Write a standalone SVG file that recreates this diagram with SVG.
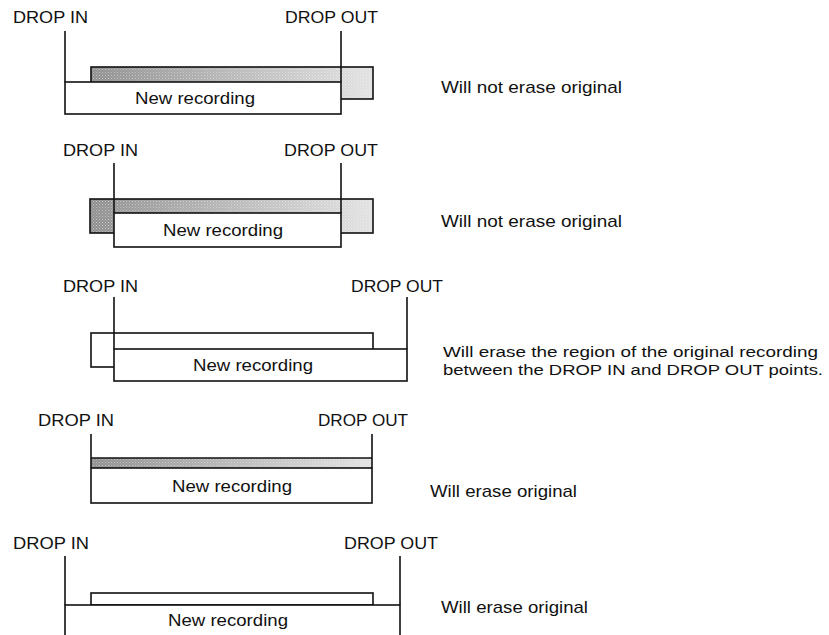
<svg xmlns="http://www.w3.org/2000/svg" width="829" height="635" viewBox="0 0 829 635">
<style>
text{font-family:"Liberation Sans",Arial,Helvetica,sans-serif;font-size:17px;fill:#111}
text.s{font-size:15.5px}
.b{fill:#fff;stroke:#111;stroke-width:1.6}
.g{fill:url(#gr);stroke:#111;stroke-width:1.6}
.l{stroke:#111;stroke-width:1.6;fill:none}
</style>
<defs>
<linearGradient id="gr" x1="0" y1="0" x2="1" y2="0">
<stop offset="0" stop-color="#8f8f8f"/>
<stop offset="1" stop-color="#e2e2e2"/>
</linearGradient>
<pattern id="dots" width="3" height="3" patternUnits="userSpaceOnUse">
<rect x="0" y="0" width="1" height="1" fill="#fff" fill-opacity="0.45"/>
<rect x="1.5" y="1.5" width="1" height="1" fill="#fff" fill-opacity="0.3"/>
</pattern>
</defs>
<g id="panel1">
<rect class="g" x="91" y="67" width="282" height="32"/>
<rect x="92" y="68" width="280" height="30" fill="url(#dots)"/>
<rect class="b" x="65" y="82" width="276" height="32"/>
<line class="l" x1="65" y1="31" x2="65" y2="82"/>
<line class="l" x1="341" y1="31" x2="341" y2="82"/>
<text x="13" y="23" textLength="75" lengthAdjust="spacingAndGlyphs">DROP IN</text>
<text x="285" y="23" textLength="93" lengthAdjust="spacingAndGlyphs">DROP OUT</text>
<text x="135" y="104" textLength="120" lengthAdjust="spacingAndGlyphs">New recording</text>
<text x="441" y="93" textLength="181" lengthAdjust="spacingAndGlyphs">Will not erase original</text>
</g>
<g id="panel2">
<rect class="g" x="90" y="199" width="283" height="34"/>
<rect x="91" y="200" width="281" height="32" fill="url(#dots)"/>
<rect class="b" x="114" y="213" width="227" height="34"/>
<line class="l" x1="114" y1="163" x2="114" y2="213"/>
<line class="l" x1="341" y1="163" x2="341" y2="213"/>
<text x="63" y="156" textLength="75" lengthAdjust="spacingAndGlyphs">DROP IN</text>
<text x="284" y="156" textLength="94" lengthAdjust="spacingAndGlyphs">DROP OUT</text>
<text x="163" y="236" textLength="120" lengthAdjust="spacingAndGlyphs">New recording</text>
<text x="441" y="227" textLength="181" lengthAdjust="spacingAndGlyphs">Will not erase original</text>
</g>
<g id="panel3">
<rect class="b" x="91" y="333" width="282" height="34"/>
<rect class="b" x="114" y="349" width="293" height="32"/>
<line class="l" x1="114" y1="297" x2="114" y2="349"/>
<line class="l" x1="407" y1="297" x2="407" y2="349"/>
<text x="63" y="292" textLength="75" lengthAdjust="spacingAndGlyphs">DROP IN</text>
<text x="351" y="292" textLength="92" lengthAdjust="spacingAndGlyphs">DROP OUT</text>
<text x="193" y="371" textLength="120" lengthAdjust="spacingAndGlyphs">New recording</text>
<text class="s" x="443" y="357" textLength="375" lengthAdjust="spacingAndGlyphs">Will erase the region of the original recording</text>
<text class="s" x="443" y="375" textLength="380" lengthAdjust="spacingAndGlyphs">between the DROP IN and DROP OUT points.</text>
</g>
<g id="panel4">
<rect x="91" y="458" width="281" height="10" fill="url(#gr)"/>
<rect x="91" y="458" width="281" height="10" fill="url(#dots)"/>
<line class="l" x1="91" y1="458" x2="372" y2="458"/>
<rect class="b" x="91" y="468" width="281" height="35"/>
<line class="l" x1="91" y1="434" x2="91" y2="468"/>
<line class="l" x1="372" y1="434" x2="372" y2="468"/>
<text x="38" y="426" textLength="76" lengthAdjust="spacingAndGlyphs">DROP IN</text>
<text x="318" y="426" textLength="90" lengthAdjust="spacingAndGlyphs">DROP OUT</text>
<text x="172" y="492" textLength="120" lengthAdjust="spacingAndGlyphs">New recording</text>
<text x="430" y="497" textLength="147" lengthAdjust="spacingAndGlyphs">Will erase original</text>
</g>
<g id="panel5">
<rect class="b" x="91" y="593" width="282" height="12"/>
<rect class="b" x="65" y="605" width="335" height="40"/>
<line class="l" x1="65" y1="556" x2="65" y2="605"/>
<line class="l" x1="400" y1="556" x2="400" y2="605"/>
<text x="13" y="549" textLength="76" lengthAdjust="spacingAndGlyphs">DROP IN</text>
<text x="344" y="549" textLength="94" lengthAdjust="spacingAndGlyphs">DROP OUT</text>
<text x="168" y="626" textLength="120" lengthAdjust="spacingAndGlyphs">New recording</text>
<text x="441" y="613" textLength="147" lengthAdjust="spacingAndGlyphs">Will erase original</text>
</g>
<g id="connectors"></g>
</svg>
